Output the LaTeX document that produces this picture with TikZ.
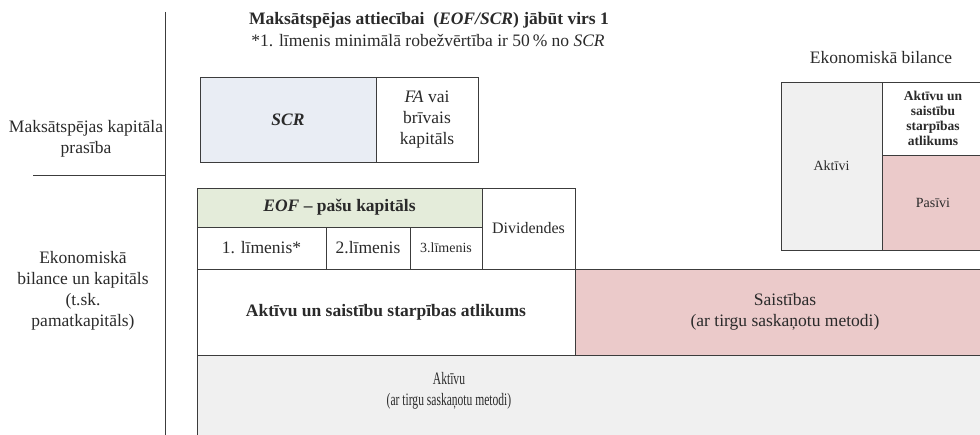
\documentclass[tikz,border=0pt]{standalone}
\usepackage{fontspec}
\setmainfont{Liberation Serif}
\usepackage{graphicx}
\definecolor{bordc}{HTML}{3C3C3C}
\definecolor{scrfill}{HTML}{E9EDF4}
\definecolor{eoffill}{HTML}{E4ECDA}
\definecolor{pinkfill}{HTML}{EBCACA}
\definecolor{greyfill}{HTML}{F0F0F0}
\definecolor{txt}{HTML}{2A2A2A}
\begin{document}
\begin{tikzpicture}[x=1pt,y=-1pt,
  box/.style={draw=bordc, line width=0.9pt, inner sep=0pt, align=center, text=txt},
  fsL/.style={font=\fontsize{17.5}{21}\selectfont},
  fsM/.style={font=\fontsize{16}{20}\selectfont},
  fsS/.style={font=\fontsize{14}{17}\selectfont},
  fsB/.style={font=\fontsize{13.5}{15}\selectfont\bfseries},
  plain/.style={inner sep=0pt, align=center, text=txt},
  rule/.style={draw=bordc, line width=0.9pt}]
\useasboundingbox (0,0) rectangle (980,435);
\clip (0,0) rectangle (980,435);

% left axis
\coordinate (vtop) at (165,12);
\coordinate (vbot) at (165,440);
\coordinate (hl) at (33,175);
\coordinate (hr) at (165,175);
\draw[rule] (vtop) -- (vbot);
\draw[rule] (hl) -- (hr);

\node[plain, fsL] (lab1) at (86,139) {Maksātspējas kapitāla\\prasība};
\node[plain, fsL] (lab2) at (83,291) {Ekonomiskā\\bilance un kapitāls\\(t.sk.\\pamatkapitāls)};

% titles
\node[plain, fsL] (title) at (429,20) {\textbf{Maksātspējas attiecībai\ \ (\textit{EOF/SCR}) jābūt virs 1}};
\node[plain, fsL] (sub) at (428,41) {*1. līmenis minimālā robežvērtība ir 50\,\% no \textit{SCR}};

% SCR row
\node[box, fill=scrfill, minimum width=176, minimum height=85, fsL] (scr) at (288,119.5) {\textbf{\textit{SCR}}};
\node[box, fill=white, minimum width=102, minimum height=85, fsL] (fa) at (427,119.5) {\textit{FA} vai\\brīvais\\kapitāls};

% EOF
\node[box, fill=eoffill, minimum width=285, minimum height=39, fsL] (eof) at (339.5,207.5) {\textbf{\textit{EOF} – pašu kapitāls}};
\node[box, fill=white, minimum width=129, minimum height=42, fsL] (l1) at (261.5,248) {1. līmenis*};
\node[box, fill=white, minimum width=84, minimum height=42, fsL] (l2) at (368,248) {2.līmenis};
\node[box, fill=white, minimum width=72, minimum height=42, fsS] (l3) at (446,248) {3.līmenis};
\node[box, fill=white, minimum width=93, minimum height=81, fsM] (div) at (528.5,228.5) {Dividendes};

% balance rows
\node[box, fill=greyfill, minimum width=820, minimum height=90] (akt) at (607,400) {};
\node[plain, fsL] (akttext) at (449,391) {\scalebox{0.66}[1]{Aktīvu}\\\scalebox{0.66}[1]{(ar tirgu saskaņotu metodi)}};
\node[box, fill=white, minimum width=378, minimum height=86, fsL] (asa) at (386,312) {\textbf{Aktīvu un saistību starpības atlikums}};
\node[box, fill=pinkfill, minimum width=420, minimum height=86, fsL] (sai) at (785,312) {Saistības\\(ar tirgu saskaņotu metodi)};

% economic balance (right)
\node[plain, fsL] (ebt) at (881,58) {Ekonomiskā bilance};
\node[box, fill=greyfill, minimum width=101, minimum height=168, fsS] (aktivi) at (831.5,166) {Aktīvi};
\node[box, fill=white, minimum width=102, minimum height=73, fsB] (asa2) at (933,118.5) {Aktīvu un\\saistību\\starpības\\atlikums};
\node[box, fill=pinkfill, minimum width=102, minimum height=95, fsS] (pas) at (933,202.5) {Pasīvi};
\end{tikzpicture}
\end{document}
